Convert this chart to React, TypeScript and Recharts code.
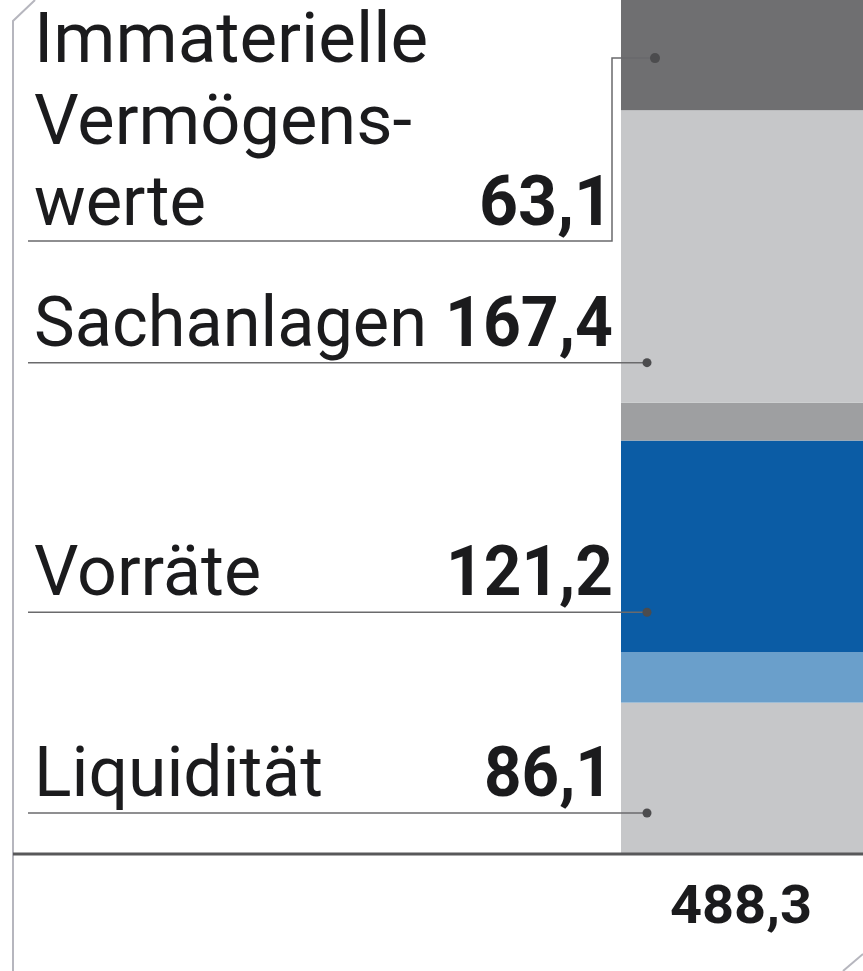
import React from 'react';
import { BarChart, Bar, XAxis, YAxis, Customized } from 'recharts';

// ---- data ----
const categories = ['Aktiva'];
const segmentKeys = ['liquiditaet', 'segment2', 'vorraete', 'segment4', 'sachanlagen', 'immaterielle'];
const segmentValues = [86.1, 28.8, 121.2, 21.7, 167.4, 63.1];
const segmentLabels: (string[] | null)[] = [
  ['Liquidität'],
  null,
  ['Vorräte'],
  null,
  ['Sachanlagen'],
  ['Immaterielle', 'Vermögens-', 'werte'],
];
const totalValue = 488.3;

// ---- styles ----
const segmentColors = ['#c6c7c9', '#6a9fcb', '#0b5ca5', '#9e9fa1', '#c6c7c9', '#6f6f71'];
const FONT = 'Roboto, "Noto Sans", sans-serif';
const TEXT = '#1b1b1d';
const LEADER = '#6a6a6c';
const DOT = '#4c4c4e';

const fmt = (v: number) => v.toFixed(1).replace('.', ',');

const data = categories.map((c) => {
  const row: Record<string, number | string> = { name: c };
  segmentKeys.forEach((k, i) => (row[k] = segmentValues[i]));
  return row;
});

// text widths (visible) for tight matching of the condensed original face
const nameWidths: Record<string, number> = {
  Immaterielle: 394,
  'Vermögens-': 378,
  werte: 172,
  Sachanlagen: 393,
  Vorräte: 227,
  Liquidität: 289,
};
const valueWidths: Record<string, number> = {
  '63,1': 134,
  '167,4': 168,
  '121,2': 167,
  '86,1': 129,
  '488,3': 142,
};

const NameText = ({ x, y, t }: { x: number; y: number; t: string }) => (
  <text
    x={x}
    y={y}
    fontFamily={FONT}
    fontSize={70}
    fill={TEXT}
    textLength={nameWidths[t]}
    lengthAdjust="spacingAndGlyphs"
  >
    {t}
  </text>
);

const ValueText = ({ x, y, t, size = 70 }: { x: number; y: number; t: string; size?: number }) => (
  <text
    x={x}
    y={y}
    fontFamily={FONT}
    fontSize={size}
    fontWeight={700}
    fill={TEXT}
    textAnchor="end"
    textLength={valueWidths[t]}
    lengthAdjust="spacingAndGlyphs"
  >
    {t}
  </text>
);

const makeShape = (idx: number) => (props: any) => {
  const { x, y, width, height, fill } = props;
  const lines = segmentLabels[idx];
  const value = fmt(segmentValues[idx]);
  const textLeft = 34;
  const leaderLeft = 28;
  const numRight = 613;
  let annotation: React.ReactNode = null;

  if (lines && lines.length > 1) {
    // multi-line label with elbow leader
    const dotY = y + height / 2 + 3;
    const underY = 241;
    const elbowX = 612;
    const dotX = x + 34;
    annotation = (
      <g>
        <polyline
          points={`${leaderLeft},${underY} ${elbowX},${underY} ${elbowX},${dotY} ${dotX},${dotY}`}
          fill="none"
          stroke={LEADER}
          strokeWidth={1.5}
        />
        <circle cx={dotX} cy={dotY} r={5} fill={DOT} />
        <NameText x={textLeft} y={underY - 179} t={lines[0]} />
        <NameText x={textLeft} y={underY - 97} t={lines[1]} />
        <NameText x={textLeft} y={underY - 16} t={lines[2]} />
        <ValueText x={numRight} y={underY - 16} t={value} />
      </g>
    );
  } else if (lines) {
    const dotY = y + height - 40;
    const dotX = x + 26;
    annotation = (
      <g>
        <line x1={leaderLeft} y1={dotY} x2={dotX} y2={dotY} stroke={LEADER} strokeWidth={1.5} />
        <circle cx={dotX} cy={dotY} r={4.5} fill={DOT} />
        <NameText x={textLeft} y={dotY - 17} t={lines[0]} />
        <ValueText x={numRight} y={dotY - 17} t={value} />
      </g>
    );
  }

  const isBottom = idx === 0;
  return (
    <g>
      <rect x={x} y={y} width={width} height={height} fill={fill} />
      {annotation}
      {isBottom && (
        <g>
          <line x1={13} y1={y + height + 1} x2={863} y2={y + height + 1} stroke="#58585a" strokeWidth={3} />
          <ValueText x={x + width / 2 + 70} y={y + height + 70} t={fmt(totalValue)} size={53} />
        </g>
      )}
    </g>
  );
};

const Frame = () => (
  <g>
    <polyline points="35,0 13,21 13,971" fill="none" stroke="#b6b6be" strokeWidth={2} />
    <line x1={843} y1={971} x2={863} y2={954} stroke="#b6b6be" strokeWidth={2} />
  </g>
);

export default function App() {
  return (
    <div style={{ position: 'absolute', left: 0, top: 0, width: 863, height: 971, background: '#fff' }}>
      <BarChart
        width={863}
        height={971}
        data={data}
        margin={{ top: 0, right: 0, left: 621, bottom: 118 }}
        barCategoryGap={0}
      >
        <XAxis dataKey="name" hide />
        <YAxis hide domain={[0, totalValue]} />
        <Customized component={<Frame />} />
        {segmentKeys.map((k, i) => (
          <Bar
            key={k}
            dataKey={k}
            stackId="a"
            fill={segmentColors[i]}
            isAnimationActive={false}
            shape={makeShape(i)}
          />
        ))}
      </BarChart>
    </div>
  );
}
